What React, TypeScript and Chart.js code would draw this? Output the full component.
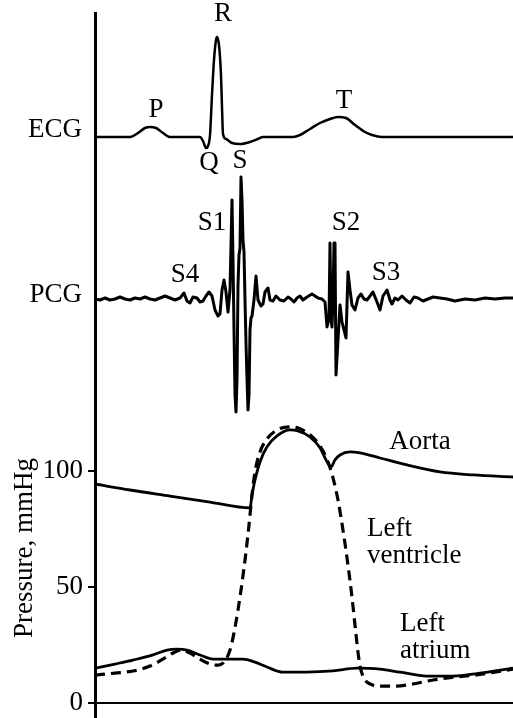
import { useEffect, useRef } from "react";
import { Chart, registerables } from "chart.js";

Chart.register(...registerables);

const FONT = '"Liberation Serif", "Times New Roman", serif';
const FONT_SIZE = 27;

// Time axis, ms over one cardiac cycle
const T_MAX = 836;

// ECG trace (mV)
const ecgT = [0, 70, 86, 100, 110, 122, 136, 150, 210, 216, 222, 226, 230, 234, 238, 242, 244, 248, 252, 254, 256, 262, 274, 290, 310, 326, 336, 396, 410, 430, 450, 470, 486, 502, 520, 540, 554, 574, 836];
const ecgV = [0, 0, 0.04, 0.09, 0.1, 0.09, 0.04, 0, 0, -0.04, -0.11, -0.09, 0.02, 0.42, 0.77, 0.97, 1.0, 0.92, 0.62, 0.3, 0.03, -0.02, -0.06, -0.07, -0.05, -0.02, 0, 0, 0.02, 0.08, 0.14, 0.18, 0.2, 0.19, 0.12, 0.05, 0.02, 0, 0];

// Phonocardiogram (relative amplitude)
const pcgT = [0, 10, 20, 30, 40, 50, 60, 70, 80, 90, 100, 110, 120, 130, 140, 150, 160, 170, 178, 184, 190, 196, 204, 210, 216, 222, 228, 234, 240, 246, 250, 254, 258, 262, 266, 270, 274, 276, 278, 280, 282, 284, 286, 288, 290, 292, 294, 296, 298, 300, 302, 304, 306, 308, 310, 312, 314, 318, 322, 326, 332, 336, 340, 346, 350, 356, 362, 370, 378, 386, 392, 398, 404, 410, 416, 424, 434, 446, 454, 460, 464, 468, 470, 472, 474, 476, 478, 480, 482, 486, 490, 494, 498, 502, 506, 510, 514, 520, 526, 532, 538, 544, 550, 556, 564, 570, 576, 584, 590, 594, 600, 606, 614, 622, 630, 638, 646, 656, 666, 676, 690, 704, 720, 740, 760, 780, 800, 820, 836];
const pcgV = [0, -1, 1, -1, 0, 2, 0, -1, 1, 0, 2, 0, -1, 1, 3, 1, -1, 1, 6, -2, -4, 2, 1, -3, -2, 3, 7, 3, -11, -17, -15, 9, 19, 7, -13, 9, 99, 39, -31, -96, -113, -81, 14, 44, 51, 122, 99, 59, 47, -1, -44, -80, -111, -96, -31, -19, -17, -1, 23, -1, -7, -5, 7, 11, -1, -2, 3, -1, -2, 2, 0, -3, 1, 3, -1, 2, 5, 1, 0, -3, -28, -19, 56, -21, -28, -1, 56, 56, -76, -41, -6, -23, -31, -39, 27, 9, -6, -11, 1, 5, 0, -1, 3, 7, -3, -11, 3, 9, -1, -5, 1, -1, 3, -1, -4, 2, 1, -2, 0, 2, 1, 0, -2, 0, -1, 1, 0, 1, 1];

// Pressure traces (mmHg)
const aortaT = [0, 70, 150, 230, 310, 314, 320, 330, 344, 364, 390, 406, 430, 450, 462, 472, 480, 490, 510, 530, 570, 624, 690, 756, 836];
const aortaP = [94.4, 91.8, 89.2, 86.6, 84.1, 89.6, 96.1, 103.9, 110.4, 115.1, 117.7, 117.3, 114.7, 110, 104.8, 101.7, 104.8, 106.9, 108.2, 107.8, 105.6, 102.6, 99.6, 98.3, 97.4];

const ventricleT = [0, 40, 76, 110, 140, 160, 174, 190, 210, 230, 246, 260, 270, 278, 286, 294, 302, 308, 314, 320, 330, 344, 364, 390, 410, 430, 450, 466, 476, 486, 496, 506, 514, 520, 526, 530, 538, 550, 570, 600, 636, 676, 720, 760, 800, 836];
const ventricleP = [12.0, 12.9, 13.8, 15.9, 19.4, 22.0, 22.8, 21.5, 18.9, 16.8, 16.3, 18.1, 22.8, 30.2, 40.1, 51.7, 65.1, 76.7, 89.6, 99.6, 108.2, 113.8, 117.7, 119.0, 118.2, 115.6, 110.8, 103.9, 97.0, 87.5, 74.5, 59.4, 45.6, 33.5, 21.9, 15.9, 10.7, 8.2, 7.3, 7.3, 8.2, 9.9, 11.2, 12.0, 13.3, 14.6];

const atriumT = [0, 40, 76, 116, 144, 164, 184, 210, 236, 264, 296, 320, 344, 376, 424, 476, 524, 570, 610, 664, 716, 770, 836];
const atriumP = [15.0, 16.8, 18.5, 20.7, 22.8, 23.2, 22.8, 20.7, 18.9, 18.9, 18.9, 17.6, 15.5, 13.3, 13.3, 13.8, 15.0, 14.6, 13.3, 11.6, 11.6, 12.9, 15.0];

const pressureTicks = [0, 50, 100];

// Wave names, placed in each trace's own units
const ecgLabels = [
  { text: "P", t: 122, v: 0.27 },
  { text: "R", t: 256, v: 1.23 },
  { text: "Q", t: 228, v: -0.26 },
  { text: "S", t: 290, v: -0.24 },
  { text: "T", t: 498, v: 0.36 },
];
const pcgLabels = [
  { text: "S1", t: 234, v: 76 },
  { text: "S4", t: 180, v: 24 },
  { text: "S2", t: 502, v: 76 },
  { text: "S3", t: 582, v: 26 },
];
const pressureLabels = [
  { lines: ["Aorta"], t: 650, v: 112.5, align: "center" },
  { lines: ["Left", "ventricle"], t: 544, v: 75, align: "left" },
  { lines: ["Left", "atrium"], t: 610, v: 34, align: "left" },
];

const toPoints = (xs: number[], ys: number[]) => xs.map((x, i) => ({ x, y: ys[i] }));

const labelPlugin = {
  id: "traceLabels",
  afterDatasetsDraw(chart: any) {
    const { ctx, chartArea } = chart;
    const sx = chart.scales.x;
    const sEcg = chart.scales.ecg;
    const sPcg = chart.scales.pcg;
    const sP = chart.scales.y;
    ctx.save();
    ctx.fillStyle = "#000";
    ctx.font = `${FONT_SIZE}px ${FONT}`;
    ctx.textAlign = "center";
    ctx.textBaseline = "middle";
    for (const l of ecgLabels) ctx.fillText(l.text, sx.getPixelForValue(l.t), sEcg.getPixelForValue(l.v));
    for (const l of pcgLabels) ctx.fillText(l.text, sx.getPixelForValue(l.t), sPcg.getPixelForValue(l.v));
    const lineGap = 27;
    for (const l of pressureLabels) {
      ctx.textAlign = l.align;
      const x = sx.getPixelForValue(l.t);
      const y = sP.getPixelForValue(l.v);
      l.lines.forEach((s, i) => ctx.fillText(s, x, y + i * lineGap));
    }
    // trace names left of the axis
    ctx.textAlign = "right";
    ctx.textBaseline = "alphabetic";
    ctx.fillText("ECG", chartArea.left - 13, sEcg.getPixelForValue(0));
    ctx.fillText("PCG", chartArea.left - 13, sPcg.getPixelForValue(-3));
    // pressure axis title
    ctx.translate(25, sP.getPixelForValue(66.8));
    ctx.rotate(-Math.PI / 2);
    ctx.textAlign = "center";
    ctx.textBaseline = "middle";
    ctx.fillText("Pressure, mmHg", 0, 0);
    ctx.restore();
  },
};

export default function App() {
  const ref = useRef<HTMLCanvasElement | null>(null);

  useEffect(() => {
    document.body.style.margin = "0";
    if (!ref.current) return;
    const chart = new Chart(ref.current, {
      type: "line",
      data: {
        datasets: [
          {
            data: [{ x: 0, y: 0 }, { x: T_MAX, y: 0 }],
            yAxisID: "y",
            borderColor: "#000",
            borderWidth: 2.2,
            pointRadius: 0,
          },
          {
            data: toPoints(ecgT, ecgV),
            yAxisID: "ecg",
            borderColor: "#000",
            borderWidth: 2.5,
            pointRadius: 0,
            cubicInterpolationMode: "monotone",
          },
          {
            data: toPoints(pcgT, pcgV),
            yAxisID: "pcg",
            borderColor: "#000",
            borderWidth: 3,
            pointRadius: 0,
            tension: 0,
            borderJoinStyle: "round",
          },
          {
            data: toPoints(aortaT, aortaP),
            yAxisID: "y",
            borderColor: "#000",
            borderWidth: 2.8,
            pointRadius: 0,
            cubicInterpolationMode: "monotone",
          },
          {
            data: toPoints(ventricleT, ventricleP),
            yAxisID: "y",
            borderColor: "#000",
            borderWidth: 3.2,
            borderDash: [10, 6],
            pointRadius: 0,
            cubicInterpolationMode: "monotone",
          },
          {
            data: toPoints(atriumT, atriumP),
            yAxisID: "y",
            borderColor: "#000",
            borderWidth: 2.8,
            pointRadius: 0,
            cubicInterpolationMode: "monotone",
          },
        ],
      },
      options: {
        responsive: false,
        animation: false,
        devicePixelRatio: 1,
        layout: { padding: { top: 13, left: 0, right: 0, bottom: 0 } },
        plugins: { legend: { display: false }, tooltip: { enabled: false }, title: { display: false } },
        scales: {
          x: { type: "linear", min: 0, max: T_MAX, display: false },
          y: {
            type: "linear",
            position: "left",
            min: -6.47,
            max: 297.4,
            afterBuildTicks: (s: any) => {
              s.ticks = pressureTicks.map((v) => ({ value: v }));
            },
            afterFit: (s: any) => {
              s.width = 95;
              s.paddingTop = 0;
              s.paddingBottom = 0;
            },
            ticks: {
              color: "#000",
              font: { family: FONT, size: FONT_SIZE },
              padding: 5,
            },
            grid: {
              drawOnChartArea: false,
              drawTicks: true,
              tickLength: 7,
              color: "#000",
              lineWidth: 2,
            },
            border: { display: true, color: "#000", width: 3 },
          },
          ecg: { type: "linear", display: false, min: -5.81, max: 1.24 },
          pcg: { type: "linear", display: false, min: -419, max: 286 },
        },
      },
      plugins: [labelPlugin],
    });
    return () => chart.destroy();
  }, []);

  return <canvas ref={ref} width={513} height={718} style={{ display: "block" }} />;
}
